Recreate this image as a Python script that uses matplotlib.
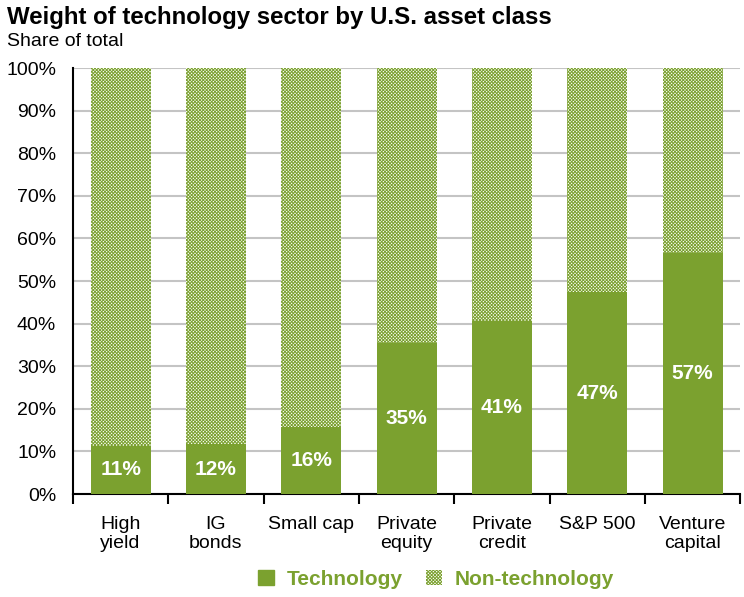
import matplotlib
matplotlib.use("Agg")
import matplotlib.pyplot as plt
from matplotlib.patches import Patch

plt.rcParams['font.family'] = ['Liberation Sans', 'DejaVu Sans']
plt.rcParams['hatch.linewidth'] = 0.7

categories = ["High\nyield", "IG\nbonds", "Small cap", "Private\nequity",
              "Private\ncredit", "S&P 500", "Venture\ncapital"]
tech = [11.3, 11.7, 15.7, 35.4, 40.6, 47.4, 56.6]
tech_labels = ["11%", "12%", "16%", "35%", "41%", "47%", "57%"]
non_tech = [100 - v for v in tech]
yticks = list(range(0, 101, 10))

green = "#7BA12F"
hatch = "xxxxxxxxxx"

fig = plt.figure(figsize=(7.44, 5.97), dpi=100)
ax = fig.add_axes([0.098, 0.1725, 0.897, 0.7135])

x = list(range(len(categories)))
bars = ax.bar(x, tech, width=0.63, color=green, zorder=3)
ax.bar(x, non_tech, bottom=tech, width=0.63, facecolor="white",
       edgecolor=green, hatch=hatch, linewidth=0, zorder=3)

for b, lab in zip(bars, tech_labels):
    ax.text(b.get_x() + b.get_width() / 2, b.get_height() / 2, lab,
            ha="center", va="center", color="white", fontsize=15,
            fontweight="bold", zorder=4)

ax.set_xlim(-0.5, len(categories) - 0.5)
ax.set_ylim(0, 100)
ax.set_yticks(yticks)
ax.set_yticklabels([f"{t}%" for t in yticks], fontsize=14)
ax.yaxis.grid(True, color="#c4c4c4", linewidth=1.5, zorder=0)
ax.tick_params(axis="y", length=0, pad=12)

# category boundaries carry the tick marks, labels sit between them
ax.set_xticks([i - 0.5 for i in range(len(categories) + 1)])
ax.set_xticklabels([])
ax.set_xticks(x, minor=True)
ax.set_xticklabels(categories, minor=True, fontsize=14, linespacing=1.15)
ax.tick_params(axis="x", which="major", length=7, width=1.5, direction="out")
ax.tick_params(axis="x", which="minor", length=0, pad=16)

for s in ["top", "right"]:
    ax.spines[s].set_visible(False)
ax.spines["left"].set_linewidth(1.5)
ax.spines["bottom"].set_linewidth(1.5)

fig.text(0.009, 0.970, "Weight of technology sector by U.S. asset class",
         fontsize=17.3, fontweight="bold", va="center")
fig.text(0.009, 0.931, "Share of total", fontsize=14, va="center")

handles = [Patch(facecolor=green, edgecolor=green),
           Patch(facecolor="white", edgecolor=green, hatch=hatch, linewidth=0)]
leg = fig.legend(handles, ["Technology", "Non-technology"], loc="center",
                 bbox_to_anchor=(0.586, 0.030), ncol=2, frameon=False,
                 handlelength=0.77, handleheight=0.77, columnspacing=1.15,
                 handletextpad=0.58, prop={"size": 15, "weight": "bold"})
for t in leg.get_texts():
    t.set_color(green)

fig.savefig("out.png", dpi=100)
